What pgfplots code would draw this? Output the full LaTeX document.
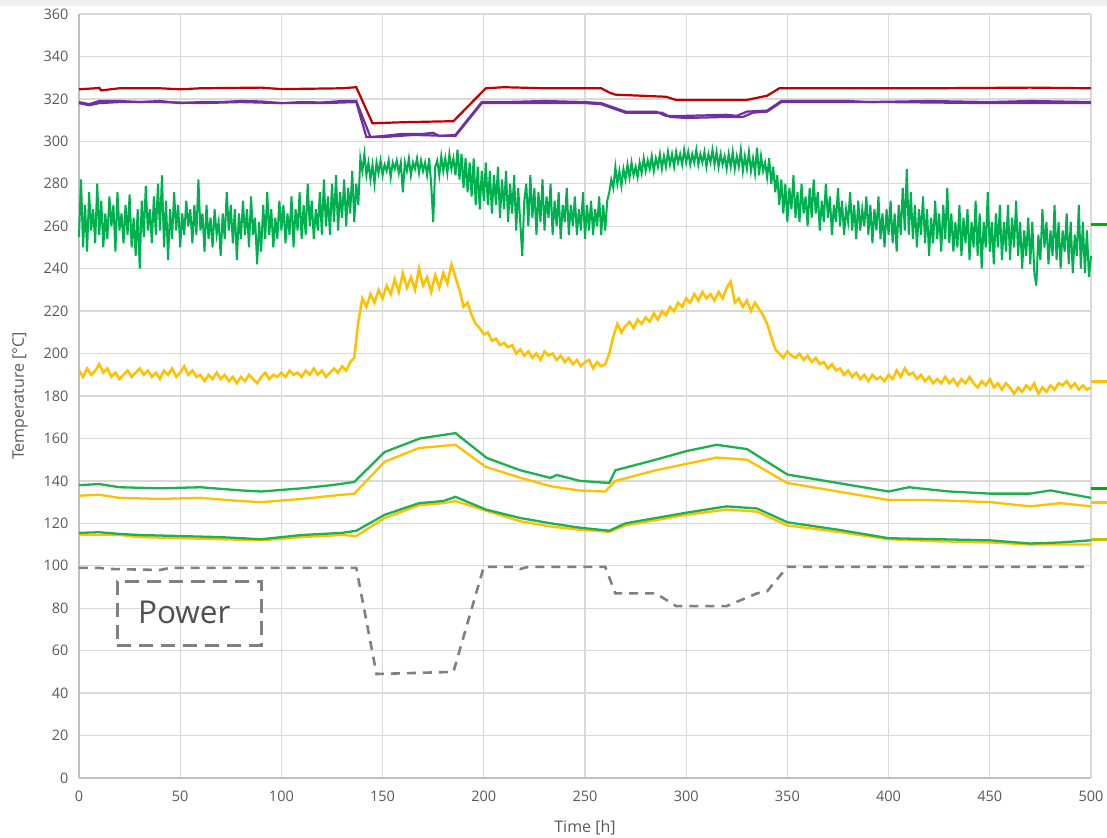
\documentclass[border=0pt]{standalone}
\usepackage{pgfplots}
\pgfplotsset{compat=1.18}
\usepackage{pgfplotstable}
\usepackage{fontspec}
\setmainfont{Open Sans}
\definecolor{cred}{RGB}{192,0,0}
\definecolor{cpurple}{RGB}{112,48,160}
\definecolor{cgreen}{RGB}{0,176,80}
\definecolor{cgreenb}{RGB}{30,176,80}
\definecolor{cyellow}{RGB}{255,192,0}
\definecolor{cgray}{RGB}{128,128,128}
\definecolor{gridgray}{RGB}{217,217,217}
\definecolor{axgray}{RGB}{191,191,191}
\definecolor{txtgray}{RGB}{89,89,89}
\definecolor{mkgreen}{RGB}{0,176,0}
\definecolor{mkyg}{RGB}{200,190,0}

\pgfplotstableread[row sep=\\]{y\\
255\\282\\250\\270\\248\\276\\258\\268\\252\\280\\256\\272\\250\\266\\254\\274\\260\\270\\248\\276\\
258\\266\\252\\270\\256\\275\\250\\264\\246\\268\\240\\272\\255\\279\\258\\268\\252\\274\\256\\280\\
258\\284\\250\\272\\244\\268\\254\\276\\258\\270\\250\\266\\256\\272\\260\\268\\252\\270\\256\\282\\
258\\266\\248\\270\\254\\264\\250\\268\\256\\262\\246\\266\\254\\276\\258\\270\\252\\268\\244\\266\\
254\\272\\256\\268\\250\\274\\256\\264\\242\\262\\248\\270\\254\\276\\256\\268\\250\\264\\254\\272\\
258\\270\\252\\266\\256\\274\\250\\268\\258\\276\\254\\270\\256\\280\\260\\272\\254\\268\\258\\276\\
256\\282\\260\\274\\256\\280\\262\\284\\258\\276\\264\\282\\260\\278\\266\\286\\262\\280\\270\\292\\
286\\294\\284\\290\\282\\289\\280\\290\\285\\291\\284\\289\\286\\291\\283\\290\\287\\291\\285\\290\\
276\\290\\286\\292\\284\\290\\287\\292\\285\\291\\286\\290\\284\\292\\280\\262\\288\\291\\284\\293\\
286\\292\\285\\294\\287\\292\\284\\296\\282\\294\\278\\292\\276\\290\\274\\292\\270\\288\\268\\286\\
272\\290\\270\\286\\266\\284\\270\\288\\264\\282\\268\\286\\262\\280\\266\\284\\258\\278\\262\\246\\
272\\280\\260\\284\\264\\278\\256\\276\\262\\282\\258\\274\\264\\280\\256\\272\\260\\276\\254\\270\\
262\\278\\256\\270\\260\\274\\256\\268\\258\\276\\254\\270\\258\\272\\256\\268\\260\\274\\256\\270\\
258\\272\\276\\282\\278\\288\\280\\286\\279\\287\\282\\289\\283\\290\\284\\288\\283\\290\\285\\292\\
286\\291\\287\\293\\286\\292\\288\\294\\287\\293\\288\\295\\289\\294\\288\\295\\290\\294\\289\\296\\
290\\295\\289\\294\\290\\296\\289\\294\\290\\295\\288\\294\\290\\296\\289\\295\\288\\294\\289\\293\\
287\\294\\288\\295\\287\\293\\288\\296\\286\\293\\287\\295\\286\\292\\285\\297\\284\\293\\286\\290\\
283\\292\\280\\288\\276\\284\\270\\282\\266\\280\\262\\278\\268\\284\\264\\276\\262\\280\\266\\274\\
260\\278\\264\\282\\266\\276\\258\\272\\262\\280\\264\\274\\256\\270\\262\\278\\260\\272\\256\\268\\
262\\276\\258\\270\\254\\272\\258\\268\\260\\274\\256\\270\\252\\268\\258\\274\\254\\266\\250\\268\\
256\\272\\252\\266\\248\\270\\256\\278\\258\\287\\256\\276\\254\\270\\250\\268\\256\\274\\252\\268\\
246\\264\\252\\272\\254\\266\\248\\270\\254\\278\\252\\266\\248\\262\\250\\270\\246\\264\\252\\268\\
244\\262\\250\\272\\246\\266\\240\\262\\250\\276\\248\\262\\242\\266\\250\\270\\244\\262\\248\\270\\
244\\264\\250\\272\\246\\262\\240\\258\\246\\264\\242\\262\\238\\232\\256\\244\\268\\250\\262\\242\\
258\\246\\270\\244\\262\\240\\258\\248\\266\\242\\262\\238\\256\\246\\270\\240\\262\\238\\258\\236\\
246\\
}\greennoise

\pgfplotstableread[row sep=\\]{y\\
192\\189\\193\\190\\192\\195\\191\\193\\189\\191\\188\\190\\192\\189\\191\\193\\190\\192\\189\\191\\
188\\192\\190\\193\\189\\191\\194\\190\\192\\189\\190\\187\\190\\188\\191\\188\\190\\187\\189\\186\\
189\\187\\190\\188\\186\\189\\191\\188\\190\\189\\191\\189\\192\\190\\191\\189\\192\\190\\193\\190\\
192\\189\\191\\193\\191\\194\\192\\196\\198\\215\\226\\222\\228\\224\\230\\226\\232\\228\\235\\229\\
238\\231\\236\\230\\240\\232\\236\\229\\237\\231\\238\\233\\242\\236\\230\\222\\224\\218\\214\\212\\
209\\210\\206\\207\\204\\205\\203\\204\\200\\202\\199\\201\\198\\200\\197\\201\\199\\200\\197\\199\\
196\\198\\195\\197\\194\\196\\197\\193\\196\\194\\195\\200\\208\\214\\210\\213\\215\\212\\216\\214\\
217\\215\\219\\216\\220\\218\\222\\220\\224\\222\\226\\224\\228\\225\\229\\226\\228\\225\\229\\226\\
231\\234\\224\\226\\222\\225\\220\\224\\221\\218\\214\\208\\202\\200\\198\\201\\199\\198\\200\\197\\
199\\196\\198\\195\\196\\193\\195\\192\\193\\190\\192\\189\\191\\188\\190\\187\\190\\188\\189\\187\\
190\\188\\192\\189\\193\\190\\191\\188\\190\\187\\189\\186\\188\\186\\189\\186\\188\\185\\188\\186\\
189\\186\\184\\187\\185\\188\\184\\186\\183\\186\\184\\181\\184\\182\\185\\183\\186\\181\\184\\182\\
185\\183\\186\\185\\187\\184\\186\\183\\185\\183\\184\\
}\yellownoise

\begin{document}
\begin{tikzpicture}
\path[use as bounding box] (-79pt,-59pt) rectangle (1028pt,778pt);
\fill[gray!12] (-79pt,772pt) rectangle (1028pt,778pt);
\begin{axis}[
  at={(0,0)}, anchor=south west,
  scale only axis, width=1012pt, height=764pt,
  xmin=0, xmax=500, ymin=0, ymax=360,
  xtick={0,50,...,500}, ytick={0,20,...,360},
  grid=major, major grid style={draw=gridgray, line width=1.3pt},
  axis lines*=left, axis line style={-, draw=axgray, line width=1.3pt},
  major tick length=0pt,
  clip=false,
  /pgf/number format/assume math mode=true,
  ticklabel style={font=\fontsize{14.5}{17}\selectfont, text=txtgray},
  yticklabel style={xshift=-7pt},
  xticklabel style={yshift=-9pt},
  every axis y label/.style={at={(rel axis cs:0,0.5)}, xshift=-59pt, rotate=90, anchor=center, font=\fontsize{16}{19}\selectfont, text=txtgray},
  every axis x label/.style={at={(rel axis cs:0.5,0)}, yshift=-50pt, anchor=center, font=\fontsize{16}{19}\selectfont, text=txtgray},
  xlabel={Time [h]}, ylabel={Temperature [°C]},
]
% power
\addplot[cgray, line width=2.6pt, dash pattern=on 9pt off 7pt] coordinates {
(0,99) (10,99) (15,98.5) (40,98) (45,99) (137,99) (147,49) (185,50) (200,99.5) (215,99.5) (218,98.5) (222,99.5) (260,99.5) (265,87) (285,87) (295,81) (320,81) (335,87) (340,88) (350,99.5) (500,99.5)};
% lower yellow / green
\addplot[cyellow, line width=2.3pt] coordinates {
(0,114.5) (20,114.5) (30,113.5) (50,113) (70,112.5) (90,112) (110,113.5) (130,114.5) (137,114) (151,122.5) (168,128.5) (180,129.5) (186,130.5) (201,126) (218,121) (233,118.5) (247,117) (262,116) (270,119) (300,124) (320,126.5) (335,125.5) (350,119) (375,116) (400,112.5) (425,111.5) (450,111) (470,110) (485,110) (500,110)};
\addplot[cgreenb, line width=2.3pt] coordinates {
(0,115.5) (10,115.8) (20,115) (30,114.5) (50,114) (70,113.5) (90,112.5) (110,114.5) (130,115.5) (137,116.5) (151,124) (168,129.5) (180,130.5) (186,132.5) (201,126.5) (218,122.5) (233,120) (247,118) (262,116.5) (270,120) (300,125) (320,128) (335,127) (350,120.5) (375,117) (400,113) (425,112.5) (450,112) (470,110.5) (485,111) (500,112)};
% upper yellow / green
\addplot[cyellow, line width=2.3pt] coordinates {
(0,133) (10,133.5) (20,132) (40,131.5) (60,132) (80,130.5) (90,130) (110,131.5) (125,133) (136,134) (151,149) (168,155.5) (186,157) (201,146.6) (218,141.5) (233,137.5) (247,135.5) (260,135) (265,140) (285,145) (300,148) (315,151) (330,150) (350,139) (375,135) (400,131) (420,131) (450,130) (470,128) (485,129.5) (500,128)};
\addplot[cgreenb, line width=2.3pt] coordinates {
(0,138) (10,138.5) (20,137) (40,136.5) (60,137) (80,135.5) (90,135) (110,136.5) (125,138) (136,139.5) (151,153.6) (168.5,160) (186,162.5) (201.5,150.8) (218,145) (233,141.4) (236,142.8) (247.5,140) (262,139) (265,145) (285,150) (300,154) (315,157) (330,155) (350,143) (375,139) (400,135) (410,137) (430,135) (450,134) (470,134) (480,135.5) (500,132)};
% noisy yellow
\addplot[cyellow, line width=2.5pt] table[x expr=2*\coordindex, y=y] {\yellownoise};
% noisy green
\addplot[cgreen, line width=2pt] table[x expr=\coordindex, y=y] {\greennoise};
% purple
\addplot[cpurple, line width=2.2pt] coordinates {
(0,318.5) (5,317.5) (10,319) (20,319) (30,318.5) (40,319) (50,318) (60,318.5) (70,318.5) (80,319) (90,318.8) (100,318) (110,318.5) (120,318.3) (130,319) (137,319) (144,302) (150,302.5) (160,303.5) (170,303.5) (175,304) (178,302.5) (186,303) (199,318.5) (210,318.5) (230,319) (250,318.5) (258,318) (264,316) (270,314) (285,314) (290,312) (300,312) (320,312.5) (325,312) (330,314) (340,314.5) (347,319) (380,319) (390,318.5) (420,319) (450,318.5) (470,319) (500,318.5)};
\addplot[cpurple, line width=2.2pt] coordinates {
(0,318) (5,317) (10,318) (20,318.5) (40,318.5) (60,318) (80,318.5) (100,318) (120,318) (137,318.5) (142,302) (150,302) (165,303) (186,302.5) (199,318) (220,318) (250,318) (258,317.5) (264,315.5) (270,313.5) (288,313.5) (292,311.5) (300,311) (320,311.5) (328,311.5) (333,313.5) (340,314) (347,318.5) (400,318.5) (450,318) (500,318)};
% red
\addplot[cred, line width=2.2pt] coordinates {
(0,324.5) (8,325) (10,325.2) (11,324) (20,325) (40,325) (50,324.5) (60,325) (90,325.3) (100,324.6) (130,325) (137,325.5) (145,308.5) (160,309) (185,309.5) (201,325) (210,325.5) (230,325) (258,325) (262,323) (265,322) (290,321) (295,319.5) (330,319.5) (340,321.5) (346,325) (380,325) (420,325) (470,325.3) (500,325)};
% right edge markers
\addplot[mkgreen, line width=3pt] coordinates {(500,260.6) (508,260.6)};
\addplot[cyellow, line width=3pt] coordinates {(500,186.6) (508,186.6)};
\addplot[mkgreen, line width=3pt] coordinates {(500,136.4) (508,136.4)};
\addplot[cyellow, line width=3pt] coordinates {(500,130) (508,130)};
\addplot[mkyg, line width=3pt] coordinates {(500,112.6) (508,112.6)};
% annotation
\node[draw=cgray, line width=3pt, dash pattern=on 14pt off 8pt, minimum width=144pt, minimum height=64pt, inner sep=0pt] at (axis cs:54.5,77.7) {};
\node[inner sep=0pt, font=\fontsize{31.5}{36}\selectfont, text={rgb,255:red,80;green,80;blue,80}] at (axis cs:52,77.8) {Power};
\end{axis}
\end{tikzpicture}
\end{document}
